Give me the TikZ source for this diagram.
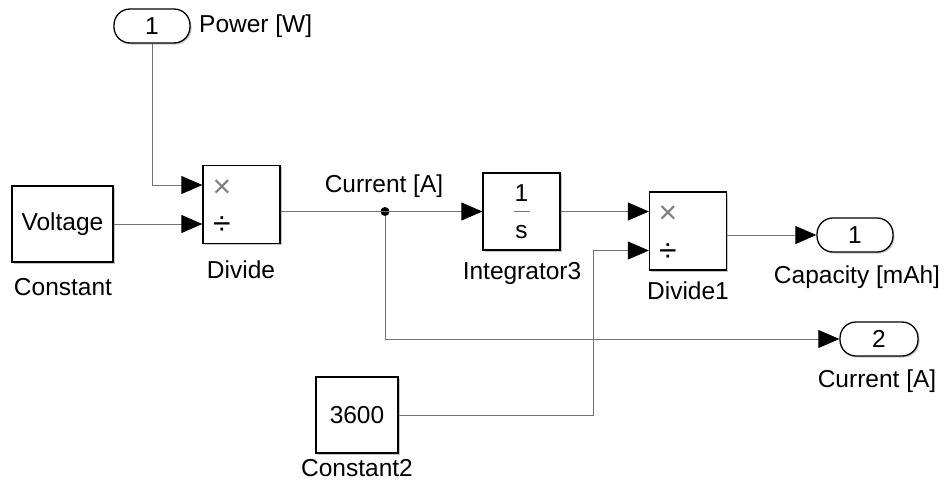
\documentclass[tikz,border=0pt]{standalone}
\usepackage{fontspec}
\setmainfont{Liberation Sans}
\usetikzlibrary{arrows.meta,shadows}

\begin{document}
\begin{tikzpicture}[
  x=1pt, y=-1pt,
  font=\fontsize{24.5}{28}\selectfont,
  block/.style={draw, line width=1.3pt, fill=white, inner sep=0pt, minimum width=77pt, minimum height=77pt,
    drop shadow={shadow xshift=1.5pt, shadow yshift=-1.5pt, opacity=0.45}},
  port/.style={draw, line width=1.3pt, fill=white, rounded corners=16pt, inner sep=0pt, minimum width=76pt, minimum height=34pt,
    drop shadow={shadow xshift=1.5pt, shadow yshift=-1.5pt, opacity=0.45}},
  lbl/.style={inner sep=0pt},
  sym/.style={inner sep=0pt, font=\fontsize{32}{34}\selectfont},
  wire/.style={draw=black!55, line width=0.9pt},
  arrow/.style={wire, -{Triangle[length=21pt, width=18pt, color=black]}},
  dot/.style={circle, fill=black, inner sep=0pt, minimum size=9pt}
]
\useasboundingbox (0,0) rectangle (944,490);

\node[port] (pw) at (152,26) {1};
\node[lbl, anchor=west] (pwlbl) at (199,26) {Power [W]};

\node[block, minimum width=101pt, minimum height=76pt] (const) at (62.5,224) {Voltage};
\node[lbl] (constlbl) at (63,287) {Constant};

\node[block, minimum height=78pt] (div) at (241.5,204.5) {};
\node[sym, text=black!50] (divx) at (222,189) {×};
\node[sym] (divd) at (222,226) {÷};
\node[lbl] (divlbl) at (241,270) {Divide};

\node[block, align=center,
  path picture={\draw[black!55, line width=0.9pt] ([xshift=-8pt]path picture bounding box.center) -- ([xshift=8pt]path picture bounding box.center);}]
  (integ) at (521.5,211.5) {1\\[9pt]s};
\node[lbl] (integlbl) at (522,273) {Integrator3};

\node[block, minimum height=78pt] (div1) at (688,231) {};
\node[sym, text=black!50] (div1x) at (668,215) {×};
\node[sym] (div1d) at (668,253) {÷};
\node[lbl] (div1lbl) at (688,291) {Divide1};

\node[port] (cap) at (855,235) {1};
\node[lbl] (caplbl) at (857,277) {Capacity [mAh]};

\node[port, minimum width=78pt] (cur) at (879,339) {2};
\node[lbl] (curlbl) at (877,381) {Current [A]};

\node[block, minimum width=82pt, minimum height=76pt] (c2) at (357,415) {3600};
\node[lbl] (c2lbl) at (357,468) {Constant2};

\node[dot] (j) at (385,211.5) {};
\node[lbl] (sig) at (384,186) {Current [A]};

\draw[arrow] (pw.south) |- ([yshift=19.5pt]div.west);
\draw[arrow] (const.east) -- ([yshift=-19.5pt]div.west);
\draw[arrow] (div.east |- integ.west) -- (integ.west);
\draw[arrow] (j) |- (cur.west);
\draw[arrow] (integ.east) -- ([yshift=19.5pt]div1.west);
\draw[arrow] (c2.east) -| ([xshift=-55pt,yshift=-19.5pt]div1.west) -- ([yshift=-19.5pt]div1.west);
\draw[arrow] (div1.east |- cap.west) -- (cap.west);

\end{tikzpicture}
\end{document}
